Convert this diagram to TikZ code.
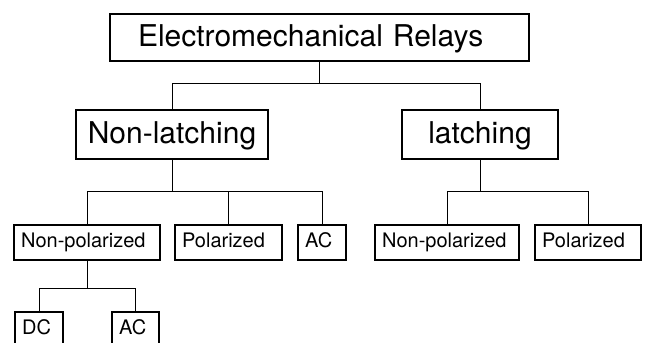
\documentclass[tikz,border=0pt]{standalone}
\usepackage{fontspec}
\setmainfont{TeX Gyre Heros}
\usepackage{tikz}
\usetikzlibrary{positioning, calc}

\begin{document}
\begin{tikzpicture}[x=1pt, y=-1pt,
  bigbox/.style={rectangle, draw, line width=2.2pt, align=center, font=\fontsize{30}{36}\selectfont, text height=21pt, text depth=3pt},
  leafbox/.style={rectangle, draw, line width=2.2pt, align=left, inner xsep=7pt, minimum height=34.8pt, font=\fontsize{20}{24}\selectfont, text height=14pt, text depth=4pt},
  link/.style={line width=1pt}
]
\useasboundingbox (0,0) rectangle (646,343);

%% Top level
\node[bigbox, align=left, inner xsep=27.9pt, text width=363pt, minimum height=46.8pt] (emr) at (319.5, 37.5) {Electromechanical Relays};

%% Second level
\node[bigbox, minimum width=191.8pt, minimum height=48.8pt] (nonlatch) at (172, 134.5) {Non-latching};
\node[bigbox, minimum width=155.8pt, minimum height=48.8pt] (latch) at (480, 134.5) {latching};

%% Third level
\node[leafbox, text width=131.8pt] (nonpol) at (87, 242.5) {Non-polarized};
\node[leafbox, text width=92.8pt] (pol) at (228.5, 242.5) {Polarized};
\node[leafbox, text width=33.8pt] (acnl) at (322, 242.5) {AC};
\node[leafbox, text width=129.8pt] (nonpoll) at (447, 242.5) {Non-polarized};
\node[leafbox, text width=91.8pt] (poll) at (588, 242.5) {Polarized};

%% Fourth level
\node[leafbox, text width=33.8pt] (dc) at (39, 329.5) {DC};
\node[leafbox, text width=32.8pt] (acnp) at (135.5, 329.5) {AC};

%% Connectors
\draw[link] (emr.south) -- ++(0,21) -| (nonlatch.north);
\draw[link] (emr.south) -- ++(0,21) -| (latch.north);
\draw[link] (nonlatch.south) -- ++(0,31.5) -| (nonpol.north);
\draw[link] (nonlatch.south) -- ++(0,31.5) -| (pol.north);
\draw[link] (nonlatch.south) -- ++(0,31.5) -| (acnl.north);
\draw[link] (latch.south) -- ++(0,31.5) -| (nonpoll.north);
\draw[link] (latch.south) -- ++(0,31.5) -| (poll.north);
\draw[link] (nonpol.south) -- ++(0,27) -| (dc.north);
\draw[link] (nonpol.south) -- ++(0,27) -| (acnp.north);

\end{tikzpicture}
\end{document}
